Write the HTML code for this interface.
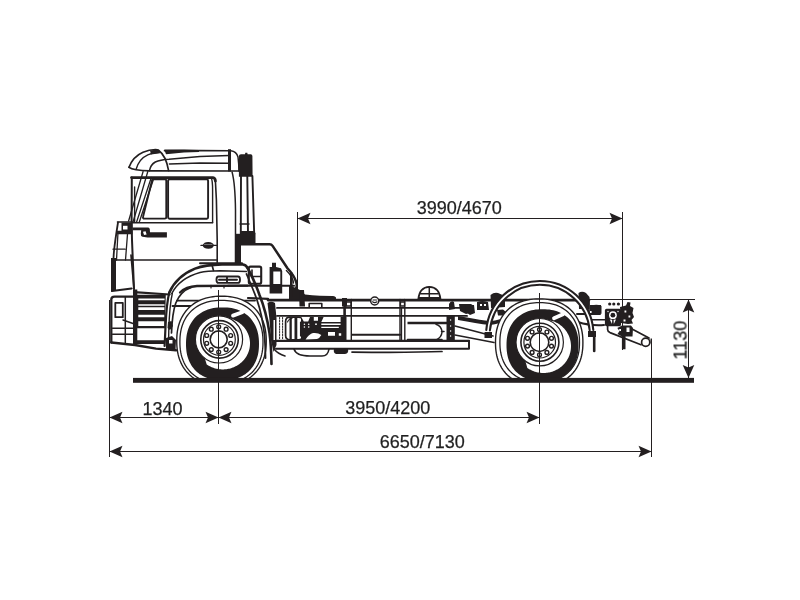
<!DOCTYPE html>
<html><head><meta charset="utf-8">
<style>
html,body{margin:0;padding:0;background:#fff;width:800px;height:600px;overflow:hidden}
svg{display:block}
text{font-family:"Liberation Sans",sans-serif;font-size:18px;fill:#231f20;stroke:#231f20;stroke-width:0.25px}
.tx{filter:grayscale(1)}
</style></head><body>
<svg width="800" height="600" viewBox="0 0 800 600">
<defs>
<path id="arL" d="M0 0 L13 -5.8 L10.5 0 L13 5.8 Z"/>
</defs>
<g stroke="#231f20" fill="none" stroke-linejoin="round" stroke-linecap="round">
<g stroke-width="1.6">
<!-- frame lines -->
<path stroke-width="2.7" d="M268 300.1 L589 300.1"/>
<path stroke-width="2.2" d="M248 298 L268 298.8"/>
<path stroke-width="1.9" d="M277 307.9 L467 307.9 M277 315.9 L467 315.9"/>
<path stroke-width="2" d="M352 334.8 L400 334.8"/>
<path stroke-width="2.1" d="M274 340.9 L469 340.9"/>
<path stroke-width="2" d="M276 348.8 L469 348.8 L469 340.9"/>
<path stroke-width="1.7" d="M352 352.1 C380 352.4 420 352.4 442 351.5"/>
<!-- crossmembers -->
<path stroke-width="2.6" d="M344.6 299.4 V340"/>
<path stroke-width="1.4" d="M351.3 299.4 V340 M400 299.4 V340 M404.8 299.4 V340"/>
<path stroke-width="1.3" d="M346 302 H351 V306 H346 Z M400.5 302 H404.5 V306 H400.5 Z"/>

<!-- fuel cap -->
<circle cx="374.7" cy="301" r="4" fill="#fff" stroke-width="1.5"/>
<path stroke-width="1.1" d="M372.5 301.8 Q374.7 303.5 377 301.8 M373 300 H376.5"/>
<!-- dome -->
<path fill="#fff" stroke-width="1.7" d="M418.3 299 Q419.5 287.2 429.3 286.8 Q439.3 287.2 440.5 299"/>
<path stroke-width="1.5" d="M429.3 286.8 V299 M420.5 293.8 H438.2"/>
<path fill="#231f20" stroke="none" d="M418 297 H441 V300 H418 Z"/>
<!-- air tank -->
<path fill="#231f20" stroke="none" d="M407.5 321.8 H449.5 V324.3 H407.5 Z"/>
<path stroke-width="1.5" d="M407.5 339.6 H442 M436 324.3 Q441.5 326 442 332 Q441.5 338 436 339.6 M441.5 331.5 H444"/>
<path stroke-width="1.3" d="M401.5 308 V340"/>
<!-- vertical bar -->
<path fill="#231f20" stroke="none" d="M446.5 315 H454.8 V341 H446.5 Z"/>
<circle cx="450.6" cy="320" r="0.7" fill="#fff" stroke="none"/><circle cx="450.6" cy="326" r="0.7" fill="#fff" stroke="none"/><circle cx="450.6" cy="331" r="0.7" fill="#fff" stroke="none"/><circle cx="450.6" cy="336" r="0.7" fill="#fff" stroke="none"/>
<!-- blobs on frame top -->
<path fill="#231f20" stroke="none" d="M449 304 Q451 300 454 302 L455 309 L449 310 Z M459 304 H471 L474 306 V312 L466 314 L460 311 Z M477 302 Q482 300 488 302 L489 310 H477 Z M490.5 295 Q494 292 498 293 L505 296 L505 307 L491 308 Z"/>
<path fill="#fff" stroke="none" d="M480 304 H482 V306 H480 Z M484 304 H486 V306 H484 Z"/>
<!-- leaf spring / strut -->
<path fill="#231f20" stroke="none" d="M458 316 C470 318 482 320.5 490 321 C498 320.5 506 317.5 514 314 L515 317 C507 321 498 324.5 490 325 C481 324.5 470 322 458 320 Z"/>
<path stroke-width="1.6" d="M455 326 L493 336 M455 335 L494 342.5"/>
<path fill="#231f20" stroke="none" d="M497 310 L503 309.5 L506 312 L504 315.5 L498 315.5 Z M465 305 H474 L475 313 L470 315 L466 312 Z"/>
<path stroke-width="2.6" d="M594.2 335 V351"/>
<path fill="#231f20" stroke="none" d="M578.5 293 Q582 290.5 586 293 L589.5 297 V309 H579 Z M590 305 H601 V311 H590 Z"/>
<path stroke-width="2" d="M577 314 H600 M578 322 Q590 326 604 325"/>
<!-- rear crossmember -->
<path stroke-width="1.6" d="M589 299.4 V319.7 H622.5"/>
<circle cx="609.7" cy="304" r="1.6" fill="#231f20" stroke="none"/>
<circle cx="613.8" cy="304" r="1.6" fill="#231f20" stroke="none"/>
<circle cx="618.4" cy="304" r="1.6" fill="#231f20" stroke="none"/>
<path fill="#231f20" stroke="none" d="M591.6 306 Q596 303.5 601.5 306 V313.8 H591.6 Z"/>
<!-- tow hook -->
<path fill="#231f20" stroke="none" d="M606.5 308.8 H619.5 Q621 308.8 621 310.5 V324.5 Q621 326.3 619.5 326.3 H606.5 Q604.9 326.3 604.9 324.5 V310.5 Q604.9 308.8 606.5 308.8 Z"/>
<circle cx="612.9" cy="315.2" r="3.9" fill="#fff" stroke="none"/>
<circle cx="612.9" cy="315.2" r="2.4" fill="#231f20" stroke="none"/>
<path fill="#fff" stroke="none" d="M609.8 319.5 L612.2 319.8 L612 324 Z M613.6 319.8 L616 319.5 L613.8 324 Z"/>
<circle cx="608" cy="311.5" r="0.7" fill="#fff" stroke="none"/><circle cx="618" cy="311.5" r="0.7" fill="#fff" stroke="none"/>
<path fill="#231f20" stroke="none" d="M620 307 L626 305.5 L627.5 302 L630.5 302.5 L630 306 L633.5 308 L632.5 313 L634 317 L631.5 320 L633 323.5 L628 324 L621 323 Z"/>
<path fill="#231f20" stroke="none" d="M617.3 328 L622 325.4 L631 325.5 L633 328 L632.5 336.4 L625.5 336.4 L625.5 349.2 L621.9 349.2 L621.9 336.4 L617.5 334 L619.5 331 Z"/>
<path fill="#fff" stroke="none" d="M626.5 327.5 H629.5 V332 H626.5 Z M624.5 310.5 H626.3 V312.5 H624.5 Z M628.5 315.5 H630.3 V317.5 H628.5 Z M623.5 319.5 H625.5 V321.5 H623.5 Z M619.2 329 H621 V331 H619.2 Z"/>
<path stroke-width="1.7" d="M607.6 325.5 V329.6 Q607.6 331.5 610 332.6 L641 344.8 M632 329 L649 338"/>
<circle cx="645.7" cy="342.3" r="4.1" fill="#fff" stroke-width="1.7"/>
<path stroke-width="1.3" d="M651.2 339 V343"/>
<!-- front chassis dense area -->
<path fill="#231f20" stroke="none" d="M267.5 303 Q271 300.5 275 303 L276.5 318 L276.5 345 L273.5 352 L271 340 L269.5 320 Z"/>
<path fill="#fff" stroke="none" d="M273.5 320 H275 V340 H273.5 Z"/>
<path stroke-width="1" stroke-dasharray="1.6 1.2" d="M279.6 317.5 V339 M282.6 317.5 V339"/>
<path stroke-width="1.7" d="M285.6 321.5 Q285.6 317.2 290 317.2 H298.5 Q303 317.2 303 321.5 V335.5 Q303 339.8 298.5 339.8 H290 Q285.6 339.8 285.6 335.5 Z"/>
<path fill="#231f20" stroke="none" d="M289.5 318 H291.8 V339 H289.5 Z M294.5 318 H297.3 V339 H294.5 Z"/>
<path stroke-width="1.1" d="M287.5 322 Q289 318.5 292 318.5 M300.5 322 V336"/>
<path fill="#231f20" stroke="none" d="M301 316.5 H346.5 V341.4 H301 Z"/>
<path fill="#fff" stroke="none" d="M301.3 317 H310 L308.2 321.4 H303.8 Z M313.8 317 H318 V320.7 H313.8 Z M323.6 317 H340.6 V322 H321.3 Z M321.3 323.6 H340.6 V325 H321.3 Z M321.3 326.7 H338.8 V328 H321.3 Z M328 332 H335 V335.8 H328 Z M338.8 333.2 H341.2 V335.8 H338.8 Z M347 317 H348.8 V334 H347 Z"/>
<path fill="#fff" stroke="none" d="M305.6 339.5 Q309 334 313 333 Q318 332.4 321.3 335 Q319.5 338.5 317 339 Z"/>
<circle cx="304.4" cy="324.2" r="0.8" fill="#fff" stroke="none"/>
<circle cx="308.7" cy="324.2" r="0.8" fill="#fff" stroke="none"/>
<circle cx="316" cy="324.2" r="0.9" fill="#fff" stroke="none"/>
<circle cx="304.4" cy="327" r="0.8" fill="#fff" stroke="none"/>
<circle cx="308.7" cy="327" r="0.8" fill="#fff" stroke="none"/>
<path fill="#231f20" stroke="none" d="M289 285.5 Q295 287 300 290 Q303 292.5 305 294.5 Q312 295.5 320 295.8 L332 296 Q335 295.5 336 297.5 L336 299.5 H289 Z"/>
<path fill="#231f20" stroke="none" d="M299 290 H304 L305 306.5 H299.5 Z"/>
<path fill="#231f20" stroke="none" d="M342 298 H347 V306.5 H342 Z"/>
<path stroke-width="1.6" d="M309.2 307 V303.5 H321.8 V307"/>
<!-- below frame -->
<path stroke-width="1.6" d="M294 349 Q296 356 310 356 H322 Q328 356 329 349"/>
<path fill="#231f20" stroke="none" d="M334 349 H348 Q349 353.5 345 354 H336 Q333 353 334 349 Z"/>
<path stroke-width="1.5" d="M274 349 Q278 354 285 356"/>
<!-- front fender -->
<path stroke-width="2.6" d="M169.3 292.5 C174 282 183 273.5 195 268.6 C203 265.6 212 264.6 222 264.4 L242 264.2 Q246 264.5 247.6 268"/>
<path stroke-width="1.5" d="M171.8 293.5 C176.5 284 186 276.5 200 272.5 C206 271 213 270.8 220 270.8 L246.5 271.5"/>
<path stroke-width="1.7" d="M212 265 L213.5 270.5"/>
<path stroke-width="1.9" d="M218.5 276.5 H238 Q240 276.5 240 279.7 Q240 282.9 238 282.9 H218.5 Q216.5 282.9 216.5 279.7 Q216.5 276.5 218.5 276.5 Z M227 277 V282.5 M219 279.7 H237"/>
<path stroke-width="2.3" d="M180 292.5 C184 288.5 189 286.5 197 286 L247.5 285.6"/>
<path stroke-width="1.2" d="M211 285.3 V288 M224 285.3 V288"/>
<!-- fender front edge -->
<path stroke-width="2.2" d="M169.3 292.5 C167.3 300 166.2 312 165.6 325 L164.6 346"/>
<path stroke-width="1.4" d="M172.3 293.5 C170.3 302 169.2 316 168.8 330 L168.5 346"/>
<path stroke-width="1.7" d="M191 287.5 C184 290 178.7 296 175.8 303 C173.3 310 172 320 171.5 333"/>
<path stroke-width="1.9" d="M177 300.6 H255 M172.5 306 H192.5"/>
<!-- cab bottom / bumper -->
<path stroke-width="2.2" d="M112 291 L131.6 288.5 M134 292.2 L169.6 294.5"/>
<path stroke-width="2.3" d="M111.3 342.5 V299.5 Q111.3 296.6 114.5 296.6 L134 296.6"/>
<path stroke-width="2.4" d="M111.3 342.5 L135 345 L156 348.6 L176 350.3"/>
<path fill="#231f20" stroke="none" d="M166 338 L172 336 L176 340 L175.5 350 L166 349 Z M168 322 L171.5 321 L173 326 L170 330 L167.5 328 Z"/>
<path fill="#fff" stroke="none" d="M169 340 H172.5 V343.5 H169 Z"/>
<path fill="#231f20" stroke="none" fill-rule="evenodd" d="M133 289.5 H137.3 V294.8 H165.8 L165 328.3 H137.3 V340.2 H164.5 V344 H133 Z M138.3 298.5 H164.6 V300.2 H138.3 Z M138.3 304.3 H164.5 V305.8 H138.3 Z M138.3 307.2 H164.4 V310 H138.3 Z M138.3 314.8 H164.3 V317.3 H138.3 Z M138.3 321.3 H164.2 V326 H138.3 Z"/>
<path stroke-width="1.8" d="M115.3 302.8 H122.8 V317.2 H115.3 Z"/>
<path stroke-width="1.5" d="M112.5 328.3 H133 M112.5 334.3 H133 M125.3 297 V342.5 M123 320 L133 323.5"/>
<path fill="#231f20" stroke="none" d="M111 258 H116 V291 H111 Z"/>
<path stroke-width="1.7" d="M131 255 L134 289"/>
</g>

<g stroke-width="1.7">
<!-- spoiler -->
<path d="M129 167.3 C131.5 160.5 136.5 155 143 152.2 C147.5 150.5 152 149.7 155.5 149.5 L158.5 150.2 C163 153.5 166.8 160 168.6 170.6"/>
<path d="M129 167.3 C132 169.6 138 170.6 149.5 170.8 L239 171"/>
<path stroke-width="1.4" d="M136.3 168.8 C138.2 162 142.3 157.3 147.8 154.8 C151.5 153.3 155 152.6 159 152.3"/>
<path fill="#231f20" stroke="none" d="M150 150.6 L157.5 149.4 L159.4 150.5 L160 153.3 L151 154.5 Z"/>
<path stroke-width="1.5" d="M149.4 170.8 C150.2 166.8 152.3 163.6 155.3 162 C159.3 160.2 164 159.6 169 159.3 L200 156.5 L229 155.6"/>
<path stroke-width="1.5" d="M169.4 163.9 L200 163.1 L229 163.3"/>
<path stroke-width="1.5" d="M164.4 150.8 L200 150.4 L229 150.8"/>
<path fill="#231f20" stroke="none" d="M164.2 149.6 L184 149.4 L199 149.9 L199 152 L184 152.6 L166 154.2 Z"/>
<path fill="#231f20" stroke="none" d="M228 149.2 H231 V171.5 H228 Z"/>
<path stroke-width="1.5" d="M230.8 150.8 C234.5 151.2 237 153.3 238 157 C238.7 162 238.9 167 238.9 171"/>
<!-- door / window frame -->
<path stroke-width="2.8" d="M131.5 177.6 L213 177.6 C214.6 177.8 215.3 179 215.4 181"/>
<path stroke-width="1.6" d="M215.4 181 L216.4 200 L217.2 240 L217.2 262.5"/>
<path stroke-width="1.4" d="M211.3 178.2 C212.3 180 212.6 184 212.6 190 L212.6 222.5"/>
<path stroke-width="2" d="M131.8 177.6 L131.6 222 L132 240 L134 289"/>
<path stroke-width="1.4" d="M134.6 187 L134.6 222"/>
<!-- windows -->
<path stroke-width="1.9" d="M152.3 179.2 L164.9 179.2 Q166.3 179.2 166.3 180.6 L166.3 217 Q166.3 218.6 164.9 218.6 L144.6 218.6 Q142.5 218.6 143.1 216.5 Z"/>
<path stroke-width="1.9" d="M169.5 179.4 L206.8 179.4 Q208.1 179.4 208.1 180.7 L208.1 217.3 Q208.1 218.7 206.8 218.7 L169.5 218.7 Q168.1 218.7 168.1 217.3 L168.1 180.7 Q168.1 179.4 169.5 179.4 Z"/>
<!-- a-pillar lines -->
<path stroke-width="1.3" d="M143.1 171.5 L128.6 221 M147.8 171.5 L133.2 221.5 M151.3 177.5 L136.6 222 M153.8 178.3 L139.3 222"/>
<path stroke-width="1.6" d="M132.5 222.8 L212.6 222.8"/>
<!-- cab front / headlamps -->
<path stroke-width="1.8" d="M118 222.5 C116.8 230 115.2 240 114.1 250 C113.3 258 112.8 270 112.6 290"/>
<path stroke-width="1.6" d="M117.5 222 L132.5 222"/>
<path fill="#231f20" stroke="none" d="M121.5 222.5 H132.5 V234.3 H116 L116.5 230.8 L121.5 230.8 Z"/>
<path fill="#fff" stroke="none" d="M123 225.8 H127.5 V229.5 H123 Z"/>
<path stroke-width="1.3" d="M117.9 234 L116.5 260 M127.5 234 L125.5 260 M113 249.2 L125 249.2"/>
<path stroke-width="1.6" d="M112.5 260 L216.5 260"/>
<!-- mirror bracket / logo -->
<path fill="#231f20" stroke="none" d="M132.5 227.6 H148.2 Q149.5 227.8 149.8 229.3 L150 232.3 H166.9 V237.5 H147.5 L142.5 236.8 Q140.5 236 140.8 233.5 L141.2 230.2 H132.5 Z"/>
<path fill="#fff" stroke="none" d="M143 231.8 L145.6 231.2 L146.6 234.6 L144 235 Z"/>
<!-- door handle -->
<path fill="#231f20" stroke="none" d="M202.5 245.4 Q204 241.8 208.5 242 Q213 242.3 214 245.4 Q213 248.5 208.5 248.7 Q204 248.8 202.5 245.4 Z"/>
<path stroke="#fff" stroke-width="1.1" d="M204.5 245 H212"/>
<path stroke-width="1.4" d="M201 245.4 H216.5"/>
<!-- cab rear -->
<path stroke-width="1.5" d="M232.1 172.1 C234.2 180 235.3 195 235.5 210 L235.5 263"/>
<path fill="#231f20" stroke="none" d="M235.8 233.8 H241 V265 H235.8 Z"/>
<path stroke-width="2" d="M200 263.2 L242 263.2"/>
<!-- intake pipe -->
<path fill="#231f20" stroke="none" d="M238.9 156 Q238.9 154.3 241 154.3 L245 154.3 L245.3 152.8 L247.3 152.8 L247.6 154.3 L250.7 154.3 Q252.4 154.3 252.4 156 L252.6 176.8 L238.9 176.8 Z"/>
<path stroke-width="1.9" d="M241 176 L240.8 234 M247.3 176 L248 234 M252.4 176 L254.2 234"/>
<path stroke-width="1.4" d="M240 224 L249 224"/>
<path fill="#231f20" stroke="none" d="M240 231 H253.5 L255.5 233 V244 L240 245 Z"/>
<!-- air filter housing -->
<path stroke-width="2.5" d="M240 244.3 L269.5 244.3 Q271.5 244.3 272.6 245.9 L287.3 268 C291 272 294.3 276 296.2 282 C297 285 296.8 287 296 288.3"/>
<path stroke-width="1.4" d="M286.4 270.5 C290.5 274.5 293 278 293.5 283"/>
<path stroke-width="2.1" d="M250.5 266.6 H259.5 Q261.2 266.6 261.2 268.3 V282 Q261.2 283.8 259.5 283.8 H250.5 Q248.8 283.8 248.8 282 V268.3 Q248.8 266.6 250.5 266.6 Z"/>
<path stroke-width="1.6" d="M251.5 276.5 H261 M252 270 V276.5"/>
<path fill="#231f20" stroke="none" d="M269.6 267 H272 V262.7 H276 V267 L281 268.2 L282.2 271 L282.2 293.5 L269.6 293.5 Z"/>
<path fill="#fff" stroke="none" d="M273.3 271.5 H280.3 V284 H273.3 Z"/>
<path fill="#231f20" stroke="none" d="M290 272.5 H292.6 V297 H290 Z"/>
<path stroke-width="2" d="M228 285.8 L294 285.8"/>
</g>

</g>
<clipPath id="cw1"><rect x="158.7" y="279.4" width="120" height="98.60"/></clipPath>
<g clip-path="url(#cw1)">
<path d="M221.50 296.20 L224.75 296.25 L227.51 296.42 L230.10 296.69 L232.58 297.07 L234.96 297.56 L237.26 298.15 L239.47 298.85 L241.61 299.66 L243.68 300.56 L245.67 301.57 L247.57 302.68 L249.40 303.88 L251.15 305.18 L252.81 306.58 L254.39 308.06 L255.87 309.64 L257.27 311.30 L258.57 313.05 L259.77 314.88 L260.88 316.78 L261.89 318.77 L262.79 320.84 L263.60 322.98 L264.30 325.19 L264.89 327.49 L265.38 329.87 L265.76 332.35 L266.03 334.94 L266.20 337.70 L266.25 340.95 L266.20 344.20 L266.03 346.96 L265.76 349.55 L265.38 352.03 L264.89 354.41 L264.30 356.71 L263.60 358.92 L262.79 361.06 L261.89 363.13 L260.88 365.12 L259.77 367.02 L258.57 368.85 L257.27 370.60 L255.87 372.26 L254.39 373.84 L252.81 375.32 L251.15 376.72 L249.40 378.02 L247.57 379.22 L245.67 380.33 L243.68 381.34 L241.61 382.24 L239.47 383.05 L237.26 383.75 L234.96 384.34 L232.58 384.83 L230.10 385.21 L227.51 385.48 L224.75 385.65 L221.50 385.70 L218.25 385.65 L215.49 385.48 L212.90 385.21 L210.42 384.83 L208.04 384.34 L205.74 383.75 L203.53 383.05 L201.39 382.24 L199.32 381.34 L197.33 380.33 L195.43 379.22 L193.60 378.02 L191.85 376.72 L190.19 375.32 L188.61 373.84 L187.13 372.26 L185.73 370.60 L184.43 368.85 L183.23 367.02 L182.12 365.12 L181.11 363.13 L180.21 361.06 L179.40 358.92 L178.70 356.71 L178.11 354.41 L177.62 352.03 L177.24 349.55 L176.97 346.96 L176.80 344.20 L176.75 340.95 L176.80 337.70 L176.97 334.94 L177.24 332.35 L177.62 329.87 L178.11 327.49 L178.70 325.19 L179.40 322.98 L180.21 320.84 L181.11 318.77 L182.12 316.78 L183.23 314.88 L184.43 313.05 L185.73 311.30 L187.13 309.64 L188.61 308.06 L190.19 306.58 L191.85 305.18 L193.60 303.88 L195.43 302.68 L197.33 301.57 L199.32 300.56 L201.39 299.66 L203.53 298.85 L205.74 298.15 L208.04 297.56 L210.42 297.07 L212.90 296.69 L215.49 296.42 L218.25 296.25 Z" fill="#fff" stroke="#231f20" stroke-width="1.4"/>
<path d="M221.45 300.35 L224.47 300.40 L227.03 300.55 L229.44 300.81 L231.74 301.16 L233.95 301.61 L236.08 302.16 L238.14 302.81 L240.13 303.56 L242.04 304.40 L243.89 305.34 L245.66 306.37 L247.36 307.48 L248.98 308.69 L250.52 309.99 L251.98 311.37 L253.36 312.83 L254.66 314.37 L255.87 315.99 L256.98 317.69 L258.01 319.46 L258.95 321.31 L259.79 323.22 L260.54 325.21 L261.19 327.27 L261.74 329.40 L262.19 331.61 L262.54 333.91 L262.80 336.32 L262.95 338.88 L263.00 341.90 L262.95 344.92 L262.80 347.48 L262.54 349.89 L262.19 352.19 L261.74 354.40 L261.19 356.53 L260.54 358.59 L259.79 360.58 L258.95 362.49 L258.01 364.34 L256.98 366.11 L255.87 367.81 L254.66 369.43 L253.36 370.97 L251.98 372.43 L250.52 373.81 L248.98 375.11 L247.36 376.32 L245.66 377.43 L243.89 378.46 L242.04 379.40 L240.13 380.24 L238.14 380.99 L236.08 381.64 L233.95 382.19 L231.74 382.64 L229.44 382.99 L227.03 383.25 L224.47 383.40 L221.45 383.45 L218.43 383.40 L215.87 383.25 L213.46 382.99 L211.16 382.64 L208.95 382.19 L206.82 381.64 L204.76 380.99 L202.77 380.24 L200.86 379.40 L199.01 378.46 L197.24 377.43 L195.54 376.32 L193.92 375.11 L192.38 373.81 L190.92 372.43 L189.54 370.97 L188.24 369.43 L187.03 367.81 L185.92 366.11 L184.89 364.34 L183.95 362.49 L183.11 360.58 L182.36 358.59 L181.71 356.53 L181.16 354.40 L180.71 352.19 L180.36 349.89 L180.10 347.48 L179.95 344.92 L179.90 341.90 L179.95 338.88 L180.10 336.32 L180.36 333.91 L180.71 331.61 L181.16 329.40 L181.71 327.27 L182.36 325.21 L183.11 323.22 L183.95 321.31 L184.89 319.46 L185.92 317.69 L187.03 315.99 L188.24 314.37 L189.54 312.83 L190.92 311.37 L192.38 309.99 L193.92 308.69 L195.54 307.48 L197.24 306.37 L199.01 305.34 L200.86 304.40 L202.77 303.56 L204.76 302.81 L206.82 302.16 L208.95 301.61 L211.16 301.16 L213.46 300.81 L215.87 300.55 L218.43 300.40 Z" fill="none" stroke="#231f20" stroke-width="1.3"/>
<path fill-rule="evenodd" fill="#231f20" d="M222.50 307.40 L225.15 307.44 L227.40 307.58 L229.52 307.80 L231.54 308.11 L233.48 308.51 L235.35 308.99 L237.16 309.56 L238.91 310.22 L240.59 310.96 L242.21 311.78 L243.77 312.68 L245.26 313.67 L246.68 314.73 L248.04 315.87 L249.32 317.08 L250.53 318.36 L251.67 319.72 L252.73 321.14 L253.72 322.63 L254.62 324.19 L255.44 325.81 L256.18 327.49 L256.84 329.24 L257.41 331.05 L257.89 332.92 L258.29 334.86 L258.60 336.88 L258.82 339.00 L258.96 341.25 L259.00 343.90 L258.96 346.55 L258.82 348.80 L258.60 350.92 L258.29 352.94 L257.89 354.88 L257.41 356.75 L256.84 358.56 L256.18 360.31 L255.44 361.99 L254.62 363.61 L253.72 365.17 L252.73 366.66 L251.67 368.08 L250.53 369.44 L249.32 370.72 L248.04 371.93 L246.68 373.07 L245.26 374.13 L243.77 375.12 L242.21 376.02 L240.59 376.84 L238.91 377.58 L237.16 378.24 L235.35 378.81 L233.48 379.29 L231.54 379.69 L229.52 380.00 L227.40 380.22 L225.15 380.36 L222.50 380.40 L219.85 380.36 L217.60 380.22 L215.48 380.00 L213.46 379.69 L211.52 379.29 L209.65 378.81 L207.84 378.24 L206.09 377.58 L204.41 376.84 L202.79 376.02 L201.23 375.12 L199.74 374.13 L198.32 373.07 L196.96 371.93 L195.68 370.72 L194.47 369.44 L193.33 368.08 L192.27 366.66 L191.28 365.17 L190.38 363.61 L189.56 361.99 L188.82 360.31 L188.16 358.56 L187.59 356.75 L187.11 354.88 L186.71 352.94 L186.40 350.92 L186.18 348.80 L186.04 346.55 L186.00 343.90 L186.04 341.25 L186.18 339.00 L186.40 336.88 L186.71 334.86 L187.11 332.92 L187.59 331.05 L188.16 329.24 L188.82 327.49 L189.56 325.81 L190.38 324.19 L191.28 322.63 L192.27 321.14 L193.33 319.72 L194.47 318.36 L195.68 317.08 L196.96 315.87 L198.32 314.73 L199.74 313.67 L201.23 312.68 L202.79 311.78 L204.41 310.96 L206.09 310.22 L207.84 309.56 L209.65 308.99 L211.52 308.51 L213.46 308.11 L215.48 307.80 L217.60 307.58 L219.85 307.44 Z M232.96 319.49 L233.83 319.84 L234.70 320.22 L235.54 320.63 L236.38 321.07 L237.19 321.54 L237.99 322.03 L238.77 322.55 L239.53 323.09 L240.27 323.66 L240.98 324.25 L241.68 324.87 L242.35 325.51 L243.00 326.17 L243.62 326.85 L244.22 327.55 L244.80 328.28 L245.34 329.02 L245.86 329.78 L246.35 330.55 L246.81 331.34 L247.24 332.15 L247.64 332.97 L248.02 333.80 L248.36 334.64 L248.67 335.50 L248.94 336.36 L249.19 337.23 L249.40 338.12 L249.59 339.00 L249.73 339.90 L249.85 340.79 L249.93 341.69 L249.98 342.60 L250.00 343.50 L249.98 344.40 L249.93 345.31 L249.85 346.21 L249.73 347.10 L249.59 348.00 L249.40 348.88 L249.19 349.77 L248.94 350.64 L248.67 351.50 L248.36 352.36 L248.02 353.20 L247.64 354.03 L247.24 354.85 L246.81 355.66 L246.35 356.45 L245.86 357.22 L245.34 357.98 L244.80 358.72 L244.22 359.45 L243.62 360.15 L243.00 360.83 L242.35 361.49 L241.68 362.13 L240.98 362.75 L240.27 363.34 L239.53 363.91 L238.77 364.45 L237.99 364.97 L237.19 365.46 L236.38 365.93 L235.54 366.37 L234.70 366.78 L233.83 367.16 L232.96 367.51 L232.07 367.84 L231.17 368.13 L230.26 368.40 L229.34 368.63 L228.42 368.83 L227.48 369.01 L226.54 369.15 L225.60 369.26 L224.65 369.34 L223.70 369.38 L222.75 369.40 L221.80 369.38 L220.85 369.34 L219.90 369.26 L218.96 369.15 L218.02 369.01 L217.08 368.83 L216.16 368.63 L215.24 368.40 L214.33 368.13 L213.43 367.84 L212.54 367.51 L211.67 367.16 L210.80 366.78 L209.96 366.37 L209.12 365.93 L208.31 365.46 L207.51 364.97 L206.73 364.45 L204.80 358.25 L204.15 357.74 L203.52 357.21 L202.90 356.66 L202.31 356.09 L201.74 355.50 L201.19 354.88 L200.66 354.25 L200.15 353.60 L199.67 352.94 L199.21 352.25 L198.77 351.55 L198.36 350.84 L197.97 350.11 L197.61 349.37 L197.28 348.62 L196.97 347.86 L196.69 347.08 L196.43 346.30 L196.20 345.51 L196.00 344.71 L195.83 343.90 L195.69 343.09 L195.58 342.28 L195.49 341.46 L195.43 340.64 L195.40 339.81 L195.40 338.99 L195.43 338.16 L195.49 337.34 L195.58 336.52 L195.69 335.71 L195.83 334.90 L196.00 334.09 L196.20 333.29 L196.43 332.50 L196.69 331.72 L196.97 330.94 L197.28 330.18 L197.61 329.43 L197.97 328.69 L198.36 327.96 L198.77 327.25 L199.21 326.55 L199.67 325.86 L200.15 325.20 L200.66 324.55 L201.19 323.92 L201.74 323.30 L202.31 322.71 L202.90 322.14 L203.52 321.59 L204.15 321.06 L204.80 320.55 L205.46 320.07 L206.15 319.61 L206.85 319.17 L207.56 318.76 L208.29 318.37 L209.03 318.01 L209.78 317.68 L210.54 317.37 L211.32 317.09 L212.10 316.83 L212.89 316.60 L213.69 316.40 L214.50 316.23 L215.31 316.09 L216.12 315.98 L216.94 315.89 L217.76 315.83 L218.59 315.80 L219.41 315.80 L220.24 315.83 L221.06 315.89 L221.88 315.98 L222.69 316.09 L223.50 316.23 L224.31 316.40 L225.11 316.60 L225.90 316.83 L226.68 317.09 L227.46 317.37 Z"/>
<rect x="209.50" y="377.40" width="26" height="1.60" fill="#231f20"/>
<path d="M233.00 315.60 L242.20 312.30" fill="none" stroke="#fff" stroke-width="3.8" stroke-linecap="round"/>
<circle cx="219" cy="339.4" r="23.6" fill="none" stroke="#231f20" stroke-width="1.2"/>
<circle cx="219.5" cy="339.4" r="18.75" fill="none" stroke="#231f20" stroke-width="1.6"/>
<circle cx="219.4" cy="339.4" r="15.9" fill="none" stroke="#231f20" stroke-width="1.2"/>
<circle cx="218.7" cy="339.4" r="8.5" fill="none" stroke="#231f20" stroke-width="1.6"/>
<circle cx="218.70" cy="326.80" r="1.9" fill="none" stroke="#231f20" stroke-width="1.4"/>
<circle cx="226.11" cy="329.21" r="1.9" fill="none" stroke="#231f20" stroke-width="1.4"/>
<circle cx="230.68" cy="335.51" r="1.9" fill="none" stroke="#231f20" stroke-width="1.4"/>
<circle cx="230.68" cy="343.29" r="1.9" fill="none" stroke="#231f20" stroke-width="1.4"/>
<circle cx="226.11" cy="349.59" r="1.9" fill="none" stroke="#231f20" stroke-width="1.4"/>
<circle cx="218.70" cy="352.00" r="1.9" fill="none" stroke="#231f20" stroke-width="1.4"/>
<circle cx="211.29" cy="349.59" r="1.9" fill="none" stroke="#231f20" stroke-width="1.4"/>
<circle cx="206.72" cy="343.29" r="1.9" fill="none" stroke="#231f20" stroke-width="1.4"/>
<circle cx="206.72" cy="335.51" r="1.9" fill="none" stroke="#231f20" stroke-width="1.4"/>
<circle cx="211.29" cy="329.21" r="1.9" fill="none" stroke="#231f20" stroke-width="1.4"/>
</g>
<clipPath id="cw2"><rect x="479.5" y="282.2" width="120" height="95.80"/></clipPath>
<g clip-path="url(#cw2)">
<path d="M539.20 298.90 L542.37 298.95 L545.07 299.11 L547.60 299.38 L550.02 299.75 L552.34 300.23 L554.59 300.81 L556.75 301.49 L558.84 302.27 L560.86 303.16 L562.80 304.14 L564.66 305.23 L566.45 306.40 L568.15 307.67 L569.78 309.04 L571.31 310.49 L572.76 312.02 L574.13 313.65 L575.40 315.35 L576.57 317.14 L577.66 319.00 L578.64 320.94 L579.53 322.96 L580.31 325.05 L580.99 327.21 L581.57 329.46 L582.05 331.78 L582.42 334.20 L582.69 336.73 L582.85 339.43 L582.90 342.60 L582.85 345.77 L582.69 348.47 L582.42 351.00 L582.05 353.42 L581.57 355.74 L580.99 357.99 L580.31 360.15 L579.53 362.24 L578.64 364.26 L577.66 366.20 L576.57 368.06 L575.40 369.85 L574.13 371.55 L572.76 373.18 L571.31 374.71 L569.78 376.16 L568.15 377.53 L566.45 378.80 L564.66 379.97 L562.80 381.06 L560.86 382.04 L558.84 382.93 L556.75 383.71 L554.59 384.39 L552.34 384.97 L550.02 385.45 L547.60 385.82 L545.07 386.09 L542.37 386.25 L539.20 386.30 L536.03 386.25 L533.33 386.09 L530.80 385.82 L528.38 385.45 L526.06 384.97 L523.81 384.39 L521.65 383.71 L519.56 382.93 L517.54 382.04 L515.60 381.06 L513.74 379.97 L511.95 378.80 L510.25 377.53 L508.62 376.16 L507.09 374.71 L505.64 373.18 L504.27 371.55 L503.00 369.85 L501.83 368.06 L500.74 366.20 L499.76 364.26 L498.87 362.24 L498.09 360.15 L497.41 357.99 L496.83 355.74 L496.35 353.42 L495.98 351.00 L495.71 348.47 L495.55 345.77 L495.50 342.60 L495.55 339.43 L495.71 336.73 L495.98 334.20 L496.35 331.78 L496.83 329.46 L497.41 327.21 L498.09 325.05 L498.87 322.96 L499.76 320.94 L500.74 319.00 L501.83 317.14 L503.00 315.35 L504.27 313.65 L505.64 312.02 L507.09 310.49 L508.62 309.04 L510.25 307.67 L511.95 306.40 L513.74 305.23 L515.60 304.14 L517.54 303.16 L519.56 302.27 L521.65 301.49 L523.81 300.81 L526.06 300.23 L528.38 299.75 L530.80 299.38 L533.33 299.11 L536.03 298.95 Z" fill="#fff" stroke="#231f20" stroke-width="1.4"/>
<path d="M539.70 302.60 L542.59 302.65 L545.05 302.79 L547.35 303.04 L549.55 303.37 L551.67 303.81 L553.71 304.34 L555.69 304.96 L557.59 305.67 L559.43 306.48 L561.19 307.38 L562.89 308.36 L564.52 309.43 L566.07 310.59 L567.55 311.83 L568.95 313.15 L570.27 314.55 L571.51 316.03 L572.67 317.58 L573.74 319.21 L574.72 320.91 L575.62 322.67 L576.43 324.51 L577.14 326.41 L577.76 328.39 L578.29 330.43 L578.73 332.55 L579.06 334.75 L579.31 337.05 L579.45 339.51 L579.50 342.40 L579.45 345.29 L579.31 347.75 L579.06 350.05 L578.73 352.25 L578.29 354.37 L577.76 356.41 L577.14 358.39 L576.43 360.29 L575.62 362.13 L574.72 363.89 L573.74 365.59 L572.67 367.22 L571.51 368.77 L570.27 370.25 L568.95 371.65 L567.55 372.97 L566.07 374.21 L564.52 375.37 L562.89 376.44 L561.19 377.42 L559.43 378.32 L557.59 379.13 L555.69 379.84 L553.71 380.46 L551.67 380.99 L549.55 381.43 L547.35 381.76 L545.05 382.01 L542.59 382.15 L539.70 382.20 L536.81 382.15 L534.35 382.01 L532.05 381.76 L529.85 381.43 L527.73 380.99 L525.69 380.46 L523.71 379.84 L521.81 379.13 L519.97 378.32 L518.21 377.42 L516.51 376.44 L514.88 375.37 L513.33 374.21 L511.85 372.97 L510.45 371.65 L509.13 370.25 L507.89 368.77 L506.73 367.22 L505.66 365.59 L504.68 363.89 L503.78 362.13 L502.97 360.29 L502.26 358.39 L501.64 356.41 L501.11 354.37 L500.67 352.25 L500.34 350.05 L500.09 347.75 L499.95 345.29 L499.90 342.40 L499.95 339.51 L500.09 337.05 L500.34 334.75 L500.67 332.55 L501.11 330.43 L501.64 328.39 L502.26 326.41 L502.97 324.51 L503.78 322.67 L504.68 320.91 L505.66 319.21 L506.73 317.58 L507.89 316.03 L509.13 314.55 L510.45 313.15 L511.85 311.83 L513.33 310.59 L514.88 309.43 L516.51 308.36 L518.21 307.38 L519.97 306.48 L521.81 305.67 L523.71 304.96 L525.69 304.34 L527.73 303.81 L529.85 303.37 L532.05 303.04 L534.35 302.79 L536.81 302.65 Z" fill="none" stroke="#231f20" stroke-width="1.3"/>
<path fill-rule="evenodd" fill="#231f20" d="M542.50 309.20 L545.11 309.24 L547.34 309.38 L549.42 309.59 L551.41 309.90 L553.33 310.29 L555.18 310.77 L556.96 311.33 L558.68 311.98 L560.34 312.71 L561.94 313.52 L563.48 314.41 L564.95 315.38 L566.35 316.43 L567.69 317.55 L568.96 318.74 L570.15 320.01 L571.27 321.35 L572.32 322.75 L573.29 324.22 L574.18 325.76 L574.99 327.36 L575.72 329.02 L576.37 330.74 L576.93 332.52 L577.41 334.37 L577.80 336.29 L578.11 338.28 L578.32 340.36 L578.46 342.59 L578.50 345.20 L578.46 347.81 L578.32 350.04 L578.11 352.12 L577.80 354.11 L577.41 356.03 L576.93 357.88 L576.37 359.66 L575.72 361.38 L574.99 363.04 L574.18 364.64 L573.29 366.18 L572.32 367.65 L571.27 369.05 L570.15 370.39 L568.96 371.66 L567.69 372.85 L566.35 373.97 L564.95 375.02 L563.48 375.99 L561.94 376.88 L560.34 377.69 L558.68 378.42 L556.96 379.07 L555.18 379.63 L553.33 380.11 L551.41 380.50 L549.42 380.81 L547.34 381.02 L545.11 381.16 L542.50 381.20 L539.89 381.16 L537.66 381.02 L535.58 380.81 L533.59 380.50 L531.67 380.11 L529.82 379.63 L528.04 379.07 L526.32 378.42 L524.66 377.69 L523.06 376.88 L521.52 375.99 L520.05 375.02 L518.65 373.97 L517.31 372.85 L516.04 371.66 L514.85 370.39 L513.73 369.05 L512.68 367.65 L511.71 366.18 L510.82 364.64 L510.01 363.04 L509.28 361.38 L508.63 359.66 L508.07 357.88 L507.59 356.03 L507.20 354.11 L506.89 352.12 L506.68 350.04 L506.54 347.81 L506.50 345.20 L506.54 342.59 L506.68 340.36 L506.89 338.28 L507.20 336.29 L507.59 334.37 L508.07 332.52 L508.63 330.74 L509.28 329.02 L510.01 327.36 L510.82 325.76 L511.71 324.22 L512.68 322.75 L513.73 321.35 L514.85 320.01 L516.04 318.74 L517.31 317.55 L518.65 316.43 L520.05 315.38 L521.52 314.41 L523.06 313.52 L524.66 312.71 L526.32 311.98 L528.04 311.33 L529.82 310.77 L531.67 310.29 L533.59 309.90 L535.58 309.59 L537.66 309.38 L539.89 309.24 Z M553.80 321.45 L554.69 321.81 L555.56 322.21 L556.41 322.63 L557.25 323.08 L558.07 323.56 L558.88 324.07 L559.66 324.61 L560.43 325.17 L561.18 325.76 L561.90 326.37 L562.60 327.01 L563.28 327.67 L563.94 328.35 L564.57 329.06 L565.17 329.78 L565.75 330.53 L566.30 331.29 L566.82 332.07 L567.32 332.88 L567.78 333.69 L568.22 334.52 L568.62 335.37 L569.00 336.23 L569.34 337.10 L569.65 337.98 L569.93 338.88 L570.18 339.78 L570.40 340.69 L570.58 341.60 L570.73 342.53 L570.85 343.45 L570.93 344.38 L570.98 345.32 L571.00 346.25 L570.98 347.18 L570.93 348.12 L570.85 349.05 L570.73 349.97 L570.58 350.90 L570.40 351.81 L570.18 352.72 L569.93 353.62 L569.65 354.52 L569.34 355.40 L569.00 356.27 L568.62 357.13 L568.22 357.98 L567.78 358.81 L567.32 359.62 L566.82 360.43 L566.30 361.21 L565.75 361.97 L565.17 362.72 L564.57 363.44 L563.94 364.15 L563.28 364.83 L562.60 365.49 L561.90 366.13 L561.18 366.74 L560.43 367.33 L559.66 367.89 L558.88 368.43 L558.07 368.94 L557.25 369.42 L556.41 369.87 L555.56 370.29 L554.69 370.69 L553.80 371.05 L552.91 371.39 L552.00 371.69 L551.08 371.96 L550.15 372.21 L549.22 372.42 L548.28 372.59 L547.33 372.74 L546.37 372.85 L545.42 372.93 L544.46 372.98 L543.50 373.00 L542.54 372.98 L541.58 372.93 L540.63 372.85 L539.67 372.74 L538.72 372.59 L537.78 372.42 L536.85 372.21 L535.92 371.96 L535.00 371.69 L534.09 371.39 L533.20 371.05 L532.31 370.69 L531.44 370.29 L530.59 369.87 L529.75 369.42 L528.93 368.94 L528.12 368.43 L527.34 367.89 L525.44 361.13 L524.79 360.62 L524.15 360.09 L523.54 359.53 L522.94 358.96 L522.37 358.36 L521.81 357.75 L521.28 357.11 L520.77 356.46 L520.29 355.79 L519.82 355.11 L519.39 354.41 L518.97 353.69 L518.58 352.96 L518.22 352.22 L517.88 351.46 L517.57 350.69 L517.29 349.92 L517.04 349.13 L516.81 348.33 L516.61 347.53 L516.44 346.72 L516.29 345.91 L516.18 345.09 L516.09 344.27 L516.03 343.44 L516.00 342.61 L516.00 341.79 L516.03 340.96 L516.09 340.13 L516.18 339.31 L516.29 338.49 L516.44 337.68 L516.61 336.87 L516.81 336.07 L517.04 335.27 L517.29 334.48 L517.57 333.71 L517.88 332.94 L518.22 332.18 L518.58 331.44 L518.97 330.71 L519.39 329.99 L519.82 329.29 L520.29 328.61 L520.77 327.94 L521.28 327.29 L521.81 326.65 L522.37 326.04 L522.94 325.44 L523.54 324.87 L524.15 324.31 L524.79 323.78 L525.44 323.27 L526.11 322.79 L526.79 322.32 L527.49 321.89 L528.21 321.47 L528.94 321.08 L529.68 320.72 L530.44 320.38 L531.21 320.07 L531.98 319.79 L532.77 319.54 L533.57 319.31 L534.37 319.11 L535.18 318.94 L535.99 318.79 L536.81 318.68 L537.63 318.59 L538.46 318.53 L539.29 318.50 L540.11 318.50 L540.94 318.53 L541.77 318.59 L542.59 318.68 L543.41 318.79 L544.22 318.94 L545.03 319.11 L545.83 319.31 L546.63 319.54 L547.42 319.79 L548.19 320.07 Z"/>
<rect x="529.50" y="378.20" width="26" height="0.80" fill="#231f20"/>
<path d="M554.00 318.20 L563.00 314.30" fill="none" stroke="#fff" stroke-width="3.8" stroke-linecap="round"/>
<circle cx="539.7" cy="342.2" r="23.7" fill="none" stroke="#231f20" stroke-width="1.2"/>
<circle cx="539.9" cy="342.2" r="19" fill="none" stroke="#231f20" stroke-width="1.6"/>
<circle cx="539.7" cy="342.2" r="15.8" fill="none" stroke="#231f20" stroke-width="1.2"/>
<circle cx="539.5" cy="342.2" r="9.3" fill="none" stroke="#231f20" stroke-width="1.6"/>
<circle cx="539.50" cy="329.60" r="1.9" fill="none" stroke="#231f20" stroke-width="1.4"/>
<circle cx="546.91" cy="332.01" r="1.9" fill="none" stroke="#231f20" stroke-width="1.4"/>
<circle cx="551.48" cy="338.31" r="1.9" fill="none" stroke="#231f20" stroke-width="1.4"/>
<circle cx="551.48" cy="346.09" r="1.9" fill="none" stroke="#231f20" stroke-width="1.4"/>
<circle cx="546.91" cy="352.39" r="1.9" fill="none" stroke="#231f20" stroke-width="1.4"/>
<circle cx="539.50" cy="354.80" r="1.9" fill="none" stroke="#231f20" stroke-width="1.4"/>
<circle cx="532.09" cy="352.39" r="1.9" fill="none" stroke="#231f20" stroke-width="1.4"/>
<circle cx="527.52" cy="346.09" r="1.9" fill="none" stroke="#231f20" stroke-width="1.4"/>
<circle cx="527.52" cy="338.31" r="1.9" fill="none" stroke="#231f20" stroke-width="1.4"/>
<circle cx="532.09" cy="332.01" r="1.9" fill="none" stroke="#231f20" stroke-width="1.4"/>
</g>
<g stroke="#231f20" fill="none" stroke-linejoin="round" stroke-linecap="round">
<!-- rear mudguard -->
<path stroke="#fff" stroke-width="3.2" d="M488.1 330.3 A51.9 51.9 0 0 1 591.5 330.3"/>
<path stroke-width="2.1" d="M486.3 330 A53.7 53.7 0 0 1 593.3 330"/>
<path stroke-width="2" d="M489.9 330.5 A50.1 50.1 0 0 1 589.7 330.5"/>
<path fill="#231f20" stroke="none" d="M484.5 332 H492 V338 H484.5 Z M588 331 H596 V337 H588 Z"/>
<!-- fender rear edge -->
<path stroke-width="2.6" d="M247.6 268 C252 276 256 285 259.5 295 C264 306 267.5 320 269.5 333 C270.8 342 271.3 352 271.5 364"/>
<path stroke-width="1.8" d="M246.5 274 C250 282 253.5 290 257 300 C260.5 310 263 322 264.5 335 C265.3 345 265.5 352 265.5 358"/>
</g>

<g id="dims" stroke="#231f20" stroke-width="1" fill="none">
 <path d="M297.5 212 V296 M622.5 212 V350 M297.5 218.5 H622.5"/>
 <path d="M589 299.5 H695 M688.5 299.5 V378"/>
 <path d="M109.5 300 V457 M218.5 290 V424 M539.5 293 V424 M651.5 339 V457"/>
 <path d="M109.5 417.5 H539.5 M109.5 451.5 H651.5"/>
</g>
<g fill="#231f20">
 <use href="#arL" x="297.5" y="218.5"/>
 <use href="#arL" transform="translate(622.5 218.5) rotate(180)"/>
 <use href="#arL" x="109.5" y="417.5"/>
 <use href="#arL" transform="translate(218.5 417.5) rotate(180)"/>
 <use href="#arL" x="218.5" y="417.5"/>
 <use href="#arL" transform="translate(539.5 417.5) rotate(180)"/>
 <use href="#arL" x="109.5" y="451.5"/>
 <use href="#arL" transform="translate(651.5 451.5) rotate(180)"/>
 <use href="#arL" transform="translate(688.5 299.5) rotate(90)"/>
 <use href="#arL" transform="translate(688.5 378) rotate(-90)"/>
</g>
<g class="tx"><text x="416.7" y="213.8">3990/4670</text>
<text x="142.5" y="414.8">1340</text>
<text x="345.3" y="413.6">3950/4200</text>
<text x="379.8" y="448">6650/7130</text>
<text transform="translate(686.5 359.5) rotate(-90)">1130</text></g>
<rect x="133" y="377.9" width="561" height="4.9" fill="#231f20"/>
</svg>
</body></html>
